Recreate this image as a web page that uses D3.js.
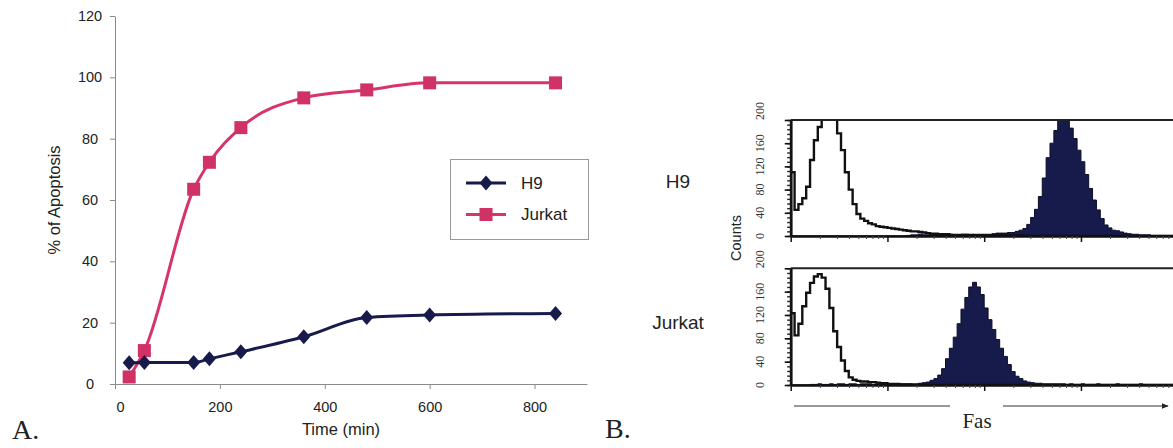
<!DOCTYPE html>
<html>
<head>
<meta charset="utf-8">
<script src="https://cdn.jsdelivr.net/npm/d3@7"></script>
<style>
  body { margin: 0; background: #fff; }
  svg { display: block; }
</style>
</head>
<body>
<div id="chart"></div>
<script>
// Panel A: time course of apoptosis
const timeMin = [27, 56, 150, 180, 240, 360, 480, 600, 840];
const h9Apoptosis = [6.9, 7, 7, 8.2, 10.5, 15.4, 21.7, 22.5, 23];
const jurkatApoptosis = [2.3, 10.9, 63.5, 72.3, 83.6, 93.3, 95.9, 98.2, 98.2];
const timeTicks = [0, 200, 400, 600, 800];
const apoptosisTicks = [0, 20, 40, 60, 80, 100, 120];
const seriesNames = ["H9", "Jurkat"];

// Panel B: Fas histograms, 25 bins per decade over 4 decades (100 bins)
const h9Control = [110, 45, 55, 65, 85, 131, 165, 188, 215, 235,
  225, 205, 177, 148, 110, 80, 55, 38, 30, 26,
  22, 20, 17, 16, 15, 14, 13, 12, 11, 10,
  9, 8, 8, 7, 6, 5, 4, 4, 3, 3,
  3, 2, 2, 2, 2, 2, 2, 1, 1, 1,
  1, 1, 1, 1, 1, 1, 1, 1, 1, 1,
  0, 0, 0, 0, 0, 0, 0, 0, 0, 0,
  0, 0, 0, 0, 0, 0, 0, 0, 0, 0,
  0, 0, 0, 0, 0, 0, 0, 0, 0, 0,
  0, 0, 0, 0, 0, 0, 0, 0, 0, 0];
const h9Fas = [0, 0, 0, 0, 0, 0, 0, 0, 0, 0,
  0, 0, 0, 0, 0, 0, 0, 0, 0, 0,
  0, 0, 0, 0, 0, 0, 0, 0, 0, 0,
  1, 2, 2, 3, 2, 2, 3, 2, 3, 2,
  2, 3, 2, 2, 3, 3, 2, 3, 3, 3,
  3, 3, 4, 5, 5, 5, 6, 6, 8, 10,
  13, 20, 32, 46, 68, 100, 135, 160, 182, 205,
  218, 208, 186, 168, 148, 128, 106, 82, 62, 45,
  30, 19, 14, 10, 9, 7, 5, 4, 3, 3,
  2, 2, 2, 1, 1, 1, 1, 1, 1, 1];
const jurkatControl = [123, 85, 105, 135, 158, 175, 186, 190, 184, 165,
  132, 92, 65, 42, 24, 13, 9, 7, 6, 6,
  5, 5, 4, 3, 3, 2, 2, 2, 1, 1,
  1, 0, 0, 0, 0, 0, 0, 0, 0, 0,
  0, 0, 0, 0, 0, 0, 0, 0, 0, 0,
  0, 0, 0, 0, 0, 0, 0, 0, 0, 0,
  0, 0, 0, 0, 0, 0, 0, 0, 0, 0,
  0, 0, 0, 0, 0, 0, 0, 0, 0, 0,
  0, 0, 0, 0, 0, 0, 0, 0, 0, 0,
  0, 0, 0, 0, 0, 0, 0, 0, 0, 0];
const jurkatFas = [0, 0, 0, 0, 0, 1, 1, 2, 1, 1,
  2, 1, 2, 2, 1, 2, 2, 1, 2, 2,
  2, 1, 2, 2, 2, 2, 1, 2, 2, 2,
  2, 2, 2, 3, 4, 5, 8, 11, 17, 28,
  45, 63, 82, 105, 130, 150, 168, 176, 168, 155,
  132, 112, 95, 78, 63, 49, 35, 23, 15, 11,
  7, 5, 4, 3, 3, 2, 2, 2, 2, 2,
  2, 1, 2, 1, 1, 2, 1, 1, 1, 2,
  1, 1, 1, 1, 2, 1, 1, 1, 1, 1,
  2, 1, 1, 1, 1, 1, 1, 1, 1, 1];
const countTicks = [0, 40, 80, 120, 160, 200];
const histRows = ["H9", "Jurkat"];

const navy = "#161b4b";
const pink = "#d6346b";

const svg = d3.select("#chart").append("svg")
  .attr("width", 1173)
  .attr("height", 448)
  .style("font-family", "'Liberation Sans', Arial, sans-serif");

svg.append("rect").attr("width", 1173).attr("height", 448).attr("fill", "#fff");

// ---------- Panel A ----------
const xA = d3.scaleLinear().domain([0, 900]).range([115, 587]);
const yA = d3.scaleLinear().domain([0, 120]).range([384, 16]);

// y axis
const yAxisA = svg.append("g")
  .attr("transform", "translate(115,0)")
  .call(d3.axisLeft(yA).tickValues(apoptosisTicks).tickSize(5).tickSizeOuter(0).tickFormat(d3.format("d")));
yAxisA.select(".domain").attr("stroke", "#8a8a8a");
yAxisA.selectAll(".tick line").attr("stroke", "#8a8a8a");
yAxisA.selectAll(".tick text")
  .attr("x", -25).attr("text-anchor", "middle")
  .style("font-size", "14.5px").style("font-family", "'Liberation Sans', Arial, sans-serif").attr("fill", "#222");

// x axis
const xAxisA = svg.append("g")
  .attr("transform", "translate(0,384)")
  .call(d3.axisBottom(xA).tickValues(timeTicks).tickSize(5).tickSizeOuter(0).tickPadding(13));
xAxisA.select(".domain").attr("stroke", "#8a8a8a");
xAxisA.selectAll(".tick line").attr("stroke", "#8a8a8a");
xAxisA.selectAll(".tick text")
  .style("font-size", "14.5px").style("font-family", "'Liberation Sans', Arial, sans-serif").attr("fill", "#222");
xAxisA.selectAll(".tick").filter(d => d === 0).select("text").attr("x", 5);

svg.append("text")
  .attr("transform", "translate(60,200) rotate(-90)")
  .attr("text-anchor", "middle")
  .style("font-size", "16.5px").attr("fill", "#222")
  .text("% of Apoptosis");

svg.append("text")
  .attr("x", 341).attr("y", 435)
  .attr("text-anchor", "middle")
  .style("font-size", "16.5px").attr("fill", "#222")
  .text("Time (min)");

const lineA = (vals) => d3.line()
  .x((d, i) => xA(timeMin[i]))
  .y(d => yA(d))
  .curve(d3.curveMonotoneX)(vals);

svg.append("path").attr("d", lineA(jurkatApoptosis))
  .attr("fill", "none").attr("stroke", pink).attr("stroke-width", 3);
svg.append("path").attr("d", lineA(h9Apoptosis))
  .attr("fill", "none").attr("stroke", navy).attr("stroke-width", 3);

const diamond = (cx, cy) => `M${cx},${cy - 7.5}L${cx + 6.5},${cy}L${cx},${cy + 7.5}L${cx - 6.5},${cy}Z`;

svg.append("g").selectAll("rect").data(jurkatApoptosis).join("rect")
  .attr("x", (d, i) => xA(timeMin[i]) - 6.5)
  .attr("y", d => yA(d) - 6.5)
  .attr("width", 13).attr("height", 13)
  .attr("fill", "#d03266");

svg.append("g").selectAll("path").data(h9Apoptosis).join("path")
  .attr("d", (d, i) => diamond(xA(timeMin[i]), yA(d)))
  .attr("fill", navy);

// legend
const legend = svg.append("g");
legend.append("rect")
  .attr("x", 450.5).attr("y", 159.5).attr("width", 138).attr("height", 80)
  .attr("fill", "#fff").attr("stroke", "#9a9a9a").attr("stroke-width", 1);
seriesNames.forEach((name, i) => {
  const ly = 183 + i * 31.5;
  const col = i === 0 ? navy : pink;
  legend.append("line")
    .attr("x1", 466).attr("x2", 506).attr("y1", ly).attr("y2", ly)
    .attr("stroke", col).attr("stroke-width", 3);
  if (i === 0) {
    legend.append("path").attr("d", diamond(486, ly)).attr("fill", navy);
  } else {
    legend.append("rect").attr("x", 479.5).attr("y", ly - 6.5)
      .attr("width", 13).attr("height", 13).attr("fill", "#d03266");
  }
  legend.append("text")
    .attr("x", 521).attr("y", ly + 5.5)
    .style("font-size", "17px").attr("fill", "#222")
    .text(name);
});

svg.append("text")
  .attr("x", 12).attr("y", 439)
  .style("font-family", "'Liberation Serif', 'Times New Roman', serif")
  .style("font-size", "28px").attr("fill", "#222")
  .text("A.");

// ---------- Panel B ----------
svg.append("text")
  .attr("x", 605).attr("y", 438)
  .style("font-family", "'Liberation Serif', 'Times New Roman', serif")
  .style("font-size", "28px").attr("fill", "#222")
  .text("B.");

const xB = d3.scaleLog().domain([1, 1e4]).range([790.7, 1177.7]);
const binsPerDecade = 25;
const binEdge = i => Math.pow(10, i / binsPerDecade);

const panels = [
  { name: histRows[0], top: 120, bottom: 236, control: h9Control, fas: h9Fas, labelY: 188 },
  { name: histRows[1], top: 268.3, bottom: 385, control: jurkatControl, fas: jurkatFas, labelY: 329 }
];

const minorX = [];
[1, 10, 100, 1000].forEach(dec => {
  for (let k = 2; k <= 9; k++) minorX.push(dec * k);
});
const majorX = [1, 10, 100, 1000];

panels.forEach((p, pi) => {
  const y = d3.scaleLinear().domain([0, 200]).range([p.bottom, p.top]);

  const clipId = "clip" + pi;
  svg.append("clipPath").attr("id", clipId)
    .append("rect")
    .attr("x", xB.range()[0]).attr("y", p.top)
    .attr("width", xB.range()[1] - xB.range()[0]).attr("height", p.bottom - p.top);

  const g = svg.append("g").attr("clip-path", `url(#${clipId})`);

  const stepPts = vals => {
    const pts = vals.map((v, i) => [xB(binEdge(i)), y(v)]);
    pts.push([xB(binEdge(vals.length)), y(vals[vals.length - 1])]);
    return pts;
  };

  // filled Fas histogram
  g.append("path")
    .attr("d", d3.area()
      .x(d => d[0]).y0(p.bottom).y1(d => d[1])
      .curve(d3.curveStepAfter)(stepPts(p.fas)))
    .attr("fill", navy).attr("stroke", "#0b0d26").attr("stroke-width", 1);

  // open control histogram
  g.append("path")
    .attr("d", d3.line()
      .x(d => d[0]).y(d => d[1])
      .curve(d3.curveStepAfter)(stepPts(p.control)))
    .attr("fill", "none").attr("stroke", "#111").attr("stroke-width", 2.4);

  // frame top
  svg.append("line")
    .attr("x1", xB.range()[0]).attr("x2", 1173)
    .attr("y1", p.top).attr("y2", p.top)
    .attr("stroke", "#222").attr("stroke-width", 2);

  // left axis: minor ticks every 8 counts, labelled every 40
  const yAx = svg.append("g")
    .attr("transform", `translate(${xB.range()[0]},0)`)
    .call(d3.axisLeft(y).tickValues(d3.range(0, 201, 8)).tickSize(3.5).tickSizeOuter(0).tickFormat(""));
  yAx.select(".domain").attr("stroke", "#111").attr("stroke-width", 2.8);
  yAx.selectAll(".tick line").attr("stroke", "#222").attr("stroke-width", 1.4);
  svg.append("g")
    .attr("transform", `translate(${xB.range()[0]},0)`)
    .call(d3.axisLeft(y).tickValues(countTicks).tickSize(6).tickSizeOuter(0).tickFormat(""))
    .call(a => a.select(".domain").remove())
    .selectAll(".tick line").attr("stroke", "#111").attr("stroke-width", 1.6);

  countTicks.forEach((t, i) => {
    svg.append("text")
      .attr("transform", `translate(764,${y(t)}) rotate(-90)`)
      .attr("text-anchor", i === countTicks.length - 1 ? "start" : "middle")
      .style("font-family", "'Liberation Serif', 'Times New Roman', serif")
      .style("font-size", "12px").attr("fill", "#333")
      .text(t);
  });

  // bottom log axis
  const xAx = svg.append("g")
    .attr("transform", `translate(0,${p.bottom})`)
    .call(d3.axisBottom(xB).tickValues(minorX).tickSize(3).tickSizeOuter(0).tickFormat(""));
  xAx.select(".domain").attr("stroke", "#111").attr("stroke-width", 2.5);
  xAx.selectAll(".tick line").attr("stroke", "#444").attr("stroke-width", 1);
  svg.append("g")
    .attr("transform", `translate(0,${p.bottom})`)
    .call(d3.axisBottom(xB).tickValues(majorX).tickSize(6).tickSizeOuter(0).tickFormat(""))
    .call(a => a.select(".domain").remove())
    .selectAll(".tick line").attr("stroke", "#111").attr("stroke-width", 1.5);

  svg.append("text")
    .attr("x", 678).attr("y", p.labelY)
    .attr("text-anchor", "middle")
    .style("font-size", "19px").attr("fill", "#222")
    .text(p.name);
});

svg.append("text")
  .attr("transform", "translate(741,238) rotate(-90)")
  .attr("text-anchor", "middle")
  .style("font-size", "14.5px").attr("fill", "#222")
  .text("Counts");

// Fas arrow
svg.append("defs").append("marker")
  .attr("id", "arrow").attr("viewBox", "0 0 10 10")
  .attr("refX", 9).attr("refY", 5)
  .attr("markerWidth", 7).attr("markerHeight", 7)
  .attr("orient", "auto")
  .append("path").attr("d", "M0,1L10,5L0,9Z").attr("fill", "#222");
svg.append("line")
  .attr("x1", 794).attr("x2", 950).attr("y1", 406).attr("y2", 406)
  .attr("stroke", "#333").attr("stroke-width", 1);
svg.append("line")
  .attr("x1", 1003).attr("x2", 1168).attr("y1", 406).attr("y2", 406)
  .attr("stroke", "#333").attr("stroke-width", 1)
  .attr("marker-end", "url(#arrow)");
svg.append("text")
  .attr("x", 977).attr("y", 428)
  .attr("text-anchor", "middle")
  .style("font-family", "'Liberation Serif', 'Times New Roman', serif")
  .style("font-size", "21px").attr("fill", "#222")
  .text("Fas");
</script>
</body>
</html>
